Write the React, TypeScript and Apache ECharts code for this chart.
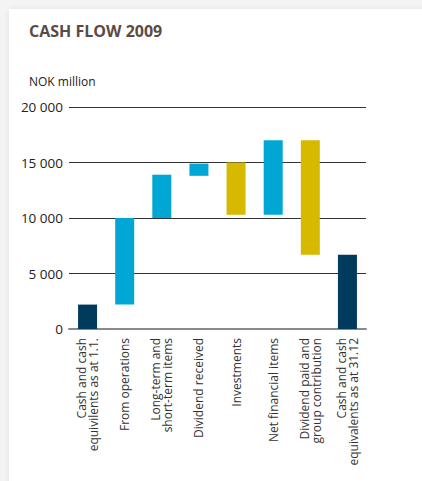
import React, { useEffect, useRef } from "react";
import * as echarts from "echarts";

const categories = [
  "Cash and cash\nequivilents as at 1.1.",
  "From operations",
  "Long-term and\nshort-term items",
  "Dividend received",
  "Investments",
  "Net financial items",
  "Dividend paid and\ngroup contribution",
  "Cash and cash\nequivalents as at 31.12",
];
const barBottom = [0, 2200, 10000, 13800, 10300, 10300, 6700, 0];
const barTop = [2200, 10000, 13900, 14900, 15000, 17000, 17000, 6700];
const barKind = ["balance", "inflow", "inflow", "inflow", "outflow", "inflow", "outflow", "balance"];
const yTicks = [0, 5000, 10000, 15000, 20000];

const kindColor: Record<string, string> = {
  balance: "#003a5d",
  inflow: "#00a7d4",
  outflow: "#d7b900",
};

const FONT = "'Open Sans', 'Noto Sans', sans-serif";

export default function App() {
  const ref = useRef<HTMLDivElement>(null);
  useEffect(() => {
    if (!ref.current) return;
    const chart = echarts.init(ref.current, undefined, { renderer: "svg" });
    chart.setOption({
      animation: false,
      textStyle: { fontFamily: FONT },
      title: {
        text: "CASH FLOW 2009",
        left: 24,
        top: 18,
        textStyle: { fontSize: 16, fontWeight: "bold", color: "#5b4b47", fontFamily: FONT },
      },
      graphic: [
        {
          type: "text",
          left: 29,
          top: 75,
          style: { text: "NOK million", fontSize: 12, fill: "#222", fontFamily: FONT },
        },
      ],
      grid: { left: 69, right: 56, top: 107, bottom: 152 },
      xAxis: {
        type: "category",
        data: categories,
        axisTick: { show: false },
        axisLine: { show: true, lineStyle: { color: "#8a8a8a", width: 2 } },
        axisLabel: {
          rotate: 90,
          interval: 0,
          margin: 9,
          fontSize: 12,
          lineHeight: 12,
          color: "#333",
          fontFamily: FONT,
        },
      },
      yAxis: {
        type: "value",
        min: yTicks[0],
        max: yTicks[yTicks.length - 1],
        interval: yTicks[1] - yTicks[0],
        axisLine: { show: false },
        axisTick: { show: false },
        splitLine: { lineStyle: { color: "#333", width: 1 } },
        axisLabel: {
          margin: 6,
          fontSize: 13.5,
          color: "#222",
          fontFamily: FONT,
          formatter: (v: number) => (v === 0 ? "0" : String(v).replace(/\B(?=(\d{3})+(?!\d))/g, " ")),
        },
      },
      series: [
        {
          type: "bar",
          stack: "w",
          barWidth: 19,
          silent: true,
          itemStyle: { color: "transparent" },
          data: barBottom,
        },
        {
          type: "bar",
          stack: "w",
          barWidth: 19,
          data: barTop.map((t, i) => ({
            value: t - barBottom[i],
            itemStyle: { color: kindColor[barKind[i]] },
          })),
        },
      ],
    });
    return () => chart.dispose();
  }, []);

  return (
    <div style={{ position: "fixed", left: 0, top: 0, width: 422, height: 481, background: "#f4f4f4", overflow: "hidden" }}>
      <div
        style={{
          position: "absolute",
          left: 9,
          top: 9,
          width: 430,
          height: 490,
          background: "#fff",
          boxShadow: "0 0 6px rgba(0,0,0,0.08)",
        }}
      />
      <div ref={ref} style={{ position: "absolute", left: 0, top: 0, width: 422, height: 481 }} />
    </div>
  );
}
